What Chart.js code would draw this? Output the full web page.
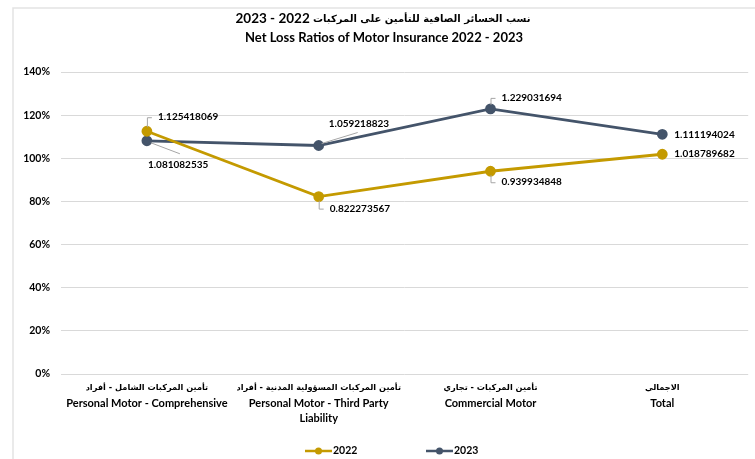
<!DOCTYPE html>
<html>
<head>
<meta charset="utf-8">
<script src="https://cdn.jsdelivr.net/npm/chart.js@4.4.1/dist/chart.umd.min.js"></script>
<style>
  html, body { margin: 0; padding: 0; background: #fff; }
  #wrap { width: 755px; height: 459px; }
</style>
</head>
<body>
<div id="wrap"><canvas id="myChart"></canvas></div>
<script>
// data
const categoriesAr = [
  'تأمين المركبات الشامل - أفراد',
  'تأمين المركبات المسؤولية المدنية - أفراد',
  'تأمين المركبات - تجاري',
  'الاجمالي'
];
const categoriesEn = [
  ['Personal Motor - Comprehensive'],
  ['Personal Motor - Third Party', 'Liability'],
  ['Commercial Motor'],
  ['Total']
];
const values2022 = [1.125418069, 0.822273567, 0.939934848, 1.018789682];
const values2023 = [1.081082535, 1.059218823, 1.229031694, 1.111194024];
const seriesNames = ['2022', '2023'];

const titleAr = 'نسب الخسائر الصافية للتأمين على المركبات';
const titleYears = '2023 - 2022';   // shown left of the arabic text (rtl order)
const titleEn = 'Net Loss Ratios of Motor Insurance 2022 - 2023';

// couleurs / styles
const gold = '#C49A00';
const navy = '#44546A';
const FONT = "Lato, 'DejaVu Sans', sans-serif";
const FONT_AR = "'DejaVu Sans', sans-serif";

// label placement: [dx, dy, leader] relative to the point
const labelPos = [
  [[11, -14, 'up'], [11, 12, 'down'], [11, 11, 'down'], [12, 0, 'none']],
  [[1, 24, 'diag'], [10, -22, 'diag'], [11, -11, 'up'], [12, 0, 'none']]
];

const labelsPlugin = {
  id: 'labelsPlugin',
  afterDatasetsDraw(chart) {
    const ctx = chart.ctx;
    ctx.save();
    ctx.font = 'bold 10px ' + FONT;
    ctx.fillStyle = '#000';
    ctx.textBaseline = 'middle';
    ctx.textAlign = 'left';
    chart.data.datasets.forEach((ds, di) => {
      const meta = chart.getDatasetMeta(di);
      meta.data.forEach((pt, i) => {
        const [dx, dy, kind] = labelPos[di][i];
        const tx = pt.x + dx, ty = pt.y + dy;
        ctx.strokeStyle = '#a6a6a6';
        ctx.lineWidth = 1;
        ctx.beginPath();
        if (kind === 'up' || kind === 'down') {
          const s = kind === 'up' ? -1 : 1;
          ctx.moveTo(pt.x + 0.5, pt.y + s * 4);
          ctx.lineTo(pt.x + 0.5, ty + 0.5);
          ctx.lineTo(pt.x + 5, ty + 0.5);
          ctx.stroke();
        } else if (kind === 'diag') {
          if (dy > 0) {
            ctx.moveTo(pt.x + 4, pt.y + 2);
            ctx.lineTo(pt.x + 33, pt.y + 13);
          } else {
            ctx.moveTo(pt.x + 3, pt.y - 2);
            ctx.lineTo(pt.x + 39, pt.y - 13);
          }
          ctx.stroke();
        }
        ctx.fillText(String(ds.data[i]), tx, ty);
      });
    });
    ctx.restore();
  }
};

// x labels: arabic line + english lines, drawn at the scale's tick pixels
const xLabelsPlugin = {
  id: 'xLabelsPlugin',
  afterDraw(chart) {
    const ctx = chart.ctx;
    const xs = chart.scales.x;
    ctx.save();
    ctx.fillStyle = '#000';
    ctx.textAlign = 'center';
    ctx.textBaseline = 'middle';
    categoriesAr.forEach((ar, i) => {
      const x = xs.getPixelForTick(i);
      ctx.direction = 'rtl';
      ctx.font = 'bold 8.2px ' + FONT_AR;
      ctx.fillText(ar, x, 388);
      ctx.direction = 'ltr';
      ctx.font = 'bold 11px ' + FONT;
      categoriesEn[i].forEach((t, j) => ctx.fillText(t, x, 403 + j * 15));
    });
    ctx.restore();
  }
};

const framePlugin = {
  id: 'framePlugin',
  beforeDraw(chart) {
    const ctx = chart.ctx;
    ctx.save();
    ctx.strokeStyle = '#e3e3e3';
    ctx.lineWidth = 1.5;
    ctx.strokeRect(13, 8, 760, 470);
    ctx.restore();
  },
  afterDraw(chart) {
    const ctx = chart.ctx;
    ctx.save();
    // title
    ctx.fillStyle = '#000';
    ctx.textBaseline = 'middle';
    ctx.font = 'bold 13.5px ' + FONT;
    const wYears = ctx.measureText(titleYears + ' ').width;
    ctx.font = 'bold 10px ' + FONT_AR;
    const wAr = ctx.measureText(titleAr).width;
    const left = 383 - (wYears + wAr) / 2;
    ctx.textAlign = 'left';
    ctx.font = 'bold 13.5px ' + FONT;
    ctx.fillText(titleYears, left, 19);
    ctx.direction = 'rtl';
    ctx.textAlign = 'right';
    ctx.font = 'bold 10px ' + FONT_AR;
    ctx.fillText(titleAr, left + wYears + wAr, 19);
    ctx.direction = 'ltr';
    ctx.textAlign = 'center';
    ctx.font = 'bold 13px ' + FONT;
    ctx.fillText(titleEn, 384, 38);
    // legend
    const items = [[305, gold, seriesNames[0]], [426, navy, seriesNames[1]]];
    items.forEach(([x, c, t]) => {
      ctx.strokeStyle = c;
      ctx.lineWidth = 2.5;
      ctx.beginPath();
      ctx.moveTo(x, 451);
      ctx.lineTo(x + 27, 451);
      ctx.stroke();
      ctx.fillStyle = c;
      ctx.beginPath();
      ctx.arc(x + 13.5, 451, 3.5, 0, Math.PI * 2);
      ctx.fill();
      ctx.fillStyle = '#000';
      ctx.textAlign = 'left';
      ctx.font = 'bold 10.5px ' + FONT;
      ctx.fillText(t, x + 28, 451);
    });
    ctx.restore();
  }
};

const data = {
  labels: categoriesEn.map(c => c.join(' ')),
  datasets: [{
    label: seriesNames[0],
    data: values2022,
    borderColor: gold,
    backgroundColor: gold,
    borderWidth: 2.8,
    pointRadius: 4,
    pointBackgroundColor: gold,
    pointBorderColor: gold
  }, {
    label: seriesNames[1],
    data: values2023,
    borderColor: navy,
    backgroundColor: navy,
    borderWidth: 2.8,
    pointRadius: 4,
    pointBackgroundColor: navy,
    pointBorderColor: navy
  }]
};

const config = {
  type: 'line',
  data: data,
  options: {
    responsive: true,
    maintainAspectRatio: false,
    animation: false,
    layout: { padding: { top: 72, left: 13, right: 3, bottom: 35 } },
    plugins: {
      legend: { display: false },
      title: { display: false },
      tooltip: { enabled: false }
    },
    scales: {
      x: {
        offset: true,
        grid: { display: false },
        border: { display: false },
        ticks: { display: false },
        afterFit(scale) { scale.height = 50; }
      },
      y: {
        min: 0,
        max: 1.4,
        border: { display: false },
        grid: { color: '#d9d9d9', lineWidth: 1, drawTicks: false },
        ticks: {
          stepSize: 0.2,
          color: '#000',
          padding: 11,
          font: { family: FONT, size: 10.5, weight: 'bold' },
          callback: v => Math.round(v * 100) + '%'
        },
        afterFit(scale) { scale.width = 48; }
      }
    }
  },
  plugins: [framePlugin, labelsPlugin, xLabelsPlugin]
};

const myChart = new Chart(document.getElementById('myChart'), config);
</script>
</body>
</html>
